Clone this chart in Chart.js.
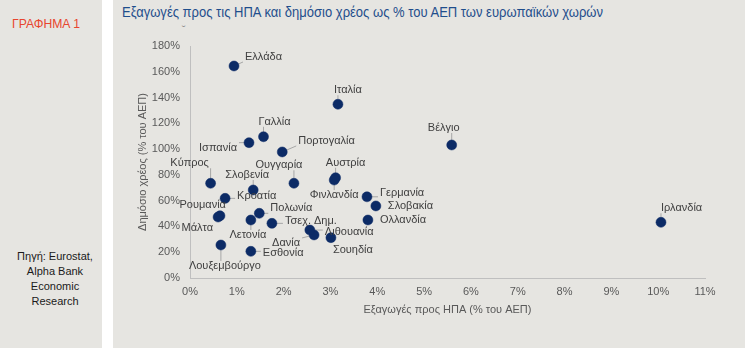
<!DOCTYPE html>
<html>
<head>
<meta charset="utf-8">
<script src="https://cdn.jsdelivr.net/npm/chart.js@4.4.0/dist/chart.umd.min.js"></script>
<style>
    body {
        margin: 0;
        width: 745px;
        height: 348px;
        position: relative;
        overflow: hidden;
        background: #ffffff;
        font-family: 'Liberation Sans', Arial, sans-serif;
    }
    .side-panel {
        position: absolute; left: 0; top: 0;
        width: 102px; height: 348px;
        background: #e6e5e1;
    }
    .main-panel {
        position: absolute; left: 113px; top: 0;
        width: 632px; height: 348px;
        background: #e6e5e1;
    }
    .fig-tag {
        position: absolute; left: 12px; top: 16px;
        font-size: 13px; line-height: 16px;
        color: #e8452f;
        white-space: nowrap;
        transform-origin: 0 50%;
    }
    .fig-title {
        position: absolute; left: 122px; top: 4px;
        font-size: 14px; line-height: 16px;
        color: #1f4e8c;
        white-space: nowrap;
        transform-origin: 0 50%;
    }
    .fig-mark {
        position: absolute; left: 182px; top: 23px;
        font-size: 11px; color: #8c8c8c;
    }
    .fig-source {
        position: absolute; left: 5px; top: 249px;
        width: 100px;
        text-align: center;
        font-size: 11px; line-height: 15px;
        color: #1a1a1a;
    }
    #scatterChart {
        position: absolute; left: 0; top: 0;
    }
</style>
</head>
<body>
<div class="side-panel"></div>
<div class="main-panel"></div>
<div class="fig-tag" id="figTag">ΓΡΑΦΗΜΑ 1</div>
<div class="fig-title" id="figTitle">Εξαγωγές προς τις ΗΠΑ και δημόσιο χρέος ως % του ΑΕΠ των ευρωπαϊκών χωρών</div>
<div class="fig-mark">˘</div>
<div class="fig-source">Πηγή: Eurostat,<br>Alpha Bank<br>Economic<br>Research</div>
<canvas id="scatterChart" width="745" height="348"></canvas>

<script>
// ============================================
// DATA - exports to US vs public debt (% of GDP)
// ============================================

const countries = [
    'Ελλάδα', 'Ιταλία', 'Βέλγιο', 'Γαλλία', 'Ισπανία', 'Πορτογαλία',
    'Κύπρος', 'Ουγγαρία', 'Αυστρία', 'Φινλανδία', 'Σλοβενία', 'Κροατία',
    'Ρουμανία', 'Μάλτα', 'Λετονία', 'Πολωνία', 'Τσεχ. Δημ.', 'Δανία',
    'Λιθουανία', 'Σουηδία', 'Εσθονία', 'Λουξεμβούργο', 'Γερμανία', 'Σλοβακία',
    'Ολλανδία', 'Ιρλανδία'
];

const exportsToUS = [
    0.94, 3.16, 5.59, 1.57, 1.26, 1.97,
    0.44, 2.22, 3.11, 3.08, 1.35, 0.75,
    0.64, 0.60, 1.30, 1.48, 1.75, 2.65,
    2.56, 3.01, 1.30, 0.66, 3.78, 3.97,
    3.80, 10.06
];

const publicDebt = [
    164.5, 134.8, 103.2, 109.6, 105.0, 97.8,
    73.5, 73.5, 77.8, 76.0, 68.3, 61.8,
    48.3, 47.3, 45.0, 50.2, 42.4, 33.4,
    37.2, 31.3, 20.7, 25.6, 63.0, 55.9,
    45.0, 43.2
];

const xTickLabels = ['0%', '1%', '2%', '3%', '4%', '5%', '6%', '7%', '8%', '9%', '10%', '11%'];
const yTickLabels = ['0%', '20%', '40%', '60%', '80%', '100%', '120%', '140%', '160%', '180%'];

// label placement: [align, dx, dy, leader line] relative to each point
const labelPlacement = [
    ['left', 11, -9, true],   ['center', 10, -14, true], ['center', -8, -17, true],
    ['center', 11, -15, true], ['right', -12, 5, true],  ['left', 16, -11, true],
    ['center', -21, -20, true], ['center', -15, -18, true], ['center', 10, -15, true],
    ['center', 0, 15, true],  ['center', -6, -15, true], ['left', 12, -2, true],
    ['right', 6, -11, false], ['right', -5, 11, false],  ['center', -3, 15, true],
    ['left', 11, -5, true],   ['left', 13, -2, true],    ['right', -14, 8, true],
    ['left', 15, 2, true],    ['left', 2, 12, false],    ['left', 12, 2, true],
    ['center', 4, 21, true],  ['left', 13, -4, true],    ['left', 12, 0, false],
    ['left', 12, 0, false],   ['left', 0, -14, true]
];

// ============================================
// HEADER TEXT - squeeze to the narrow typeface width
// ============================================

function fitWidth(id, target) {
    const el = document.getElementById(id);
    const w = el.getBoundingClientRect().width;
    if (w > 0) el.style.transform = 'scaleX(' + (target / w).toFixed(3) + ')';
}
fitWidth('figTitle', 481);
fitWidth('figTag', 68);

// ============================================
// LABEL PLUGIN - country names with leader lines
// ============================================

const LABEL_FONT = "11px 'Liberation Sans', Arial, sans-serif";

function labelBox(ctx, point, i) {
    const [align, dx, dy] = labelPlacement[i];
    const w = ctx.measureText(countries[i]).width;
    const x = point.x + dx;
    const y = point.y + dy;
    let left = x;
    if (align === 'right') left = x - w;
    if (align === 'center') left = x - w / 2;
    return { x, y, align, left, right: left + w, top: y - 5, bottom: y + 5 };
}

const countryLabels = {
    id: 'countryLabels',
    beforeDatasetsDraw(chart) {
        const ctx = chart.ctx;
        const meta = chart.getDatasetMeta(0);
        ctx.save();
        ctx.font = LABEL_FONT;
        ctx.strokeStyle = '#a6a6a6';
        ctx.lineWidth = 1;
        meta.data.forEach((point, i) => {
            if (!labelPlacement[i][3]) return;
            const box = labelBox(ctx, point, i);
            const px = Math.min(Math.max(point.x, box.left - 2), box.right + 2);
            const py = Math.min(Math.max(point.y, box.top), box.bottom);
            ctx.beginPath();
            ctx.moveTo(point.x, point.y);
            ctx.lineTo(px, py);
            ctx.stroke();
        });
        ctx.restore();
    },
    afterDatasetsDraw(chart) {
        const ctx = chart.ctx;
        const meta = chart.getDatasetMeta(0);
        ctx.save();
        ctx.font = LABEL_FONT;
        ctx.fillStyle = '#404040';
        ctx.textBaseline = 'middle';
        meta.data.forEach((point, i) => {
            const box = labelBox(ctx, point, i);
            ctx.textAlign = box.align;
            ctx.fillText(countries[i], box.x, box.y);
        });
        ctx.restore();
    }
};

// ============================================
// CHART
// ============================================

Chart.defaults.font.family = "'Liberation Sans', Arial, sans-serif";
Chart.defaults.font.size = 11;
Chart.defaults.color = '#595959';

new Chart(document.getElementById('scatterChart'), {
    type: 'scatter',
    data: {
        datasets: [{
            label: 'Χώρες',
            data: countries.map((c, i) => ({ x: exportsToUS[i], y: publicDebt[i] })),
            pointRadius: 5,
            pointBackgroundColor: '#0c2b66',
            pointBorderColor: '#0c2b66',
            pointBorderWidth: 0.5
        }]
    },
    options: {
        responsive: false,
        animation: false,
        layout: {
            padding: { left: 136, top: 46, right: 40, bottom: 31 }
        },
        plugins: {
            legend: { display: false },
            tooltip: { enabled: false }
        },
        scales: {
            x: {
                type: 'linear',
                min: 0,
                max: 11,
                afterFit: scale => { scale.height = 39; },
                grid: { display: false, drawTicks: false },
                border: { display: true, color: '#bfbfbf', width: 1 },
                ticks: {
                    stepSize: 1,
                    padding: 7,
                    color: '#595959',
                    callback: value => xTickLabels[value]
                },
                title: {
                    display: true,
                    text: 'Εξαγωγές προς ΗΠΑ (% του ΑΕΠ)',
                    color: '#595959',
                    padding: 0,
                    font: { size: 11 }
                }
            },
            y: {
                type: 'linear',
                min: 0,
                max: 180,
                afterFit: scale => { scale.width = 54; },
                grid: { display: false, drawTicks: false },
                border: { display: true, color: '#bfbfbf', width: 1 },
                ticks: {
                    stepSize: 20,
                    padding: 10,
                    color: '#595959',
                    callback: value => yTickLabels[value / 20]
                },
                title: {
                    display: true,
                    text: 'Δημόσιο χρέος (% του ΑΕΠ)',
                    color: '#595959',
                    padding: 0,
                    font: { size: 11 }
                }
            }
        }
    },
    plugins: [countryLabels]
});
</script>
</body>
</html>
